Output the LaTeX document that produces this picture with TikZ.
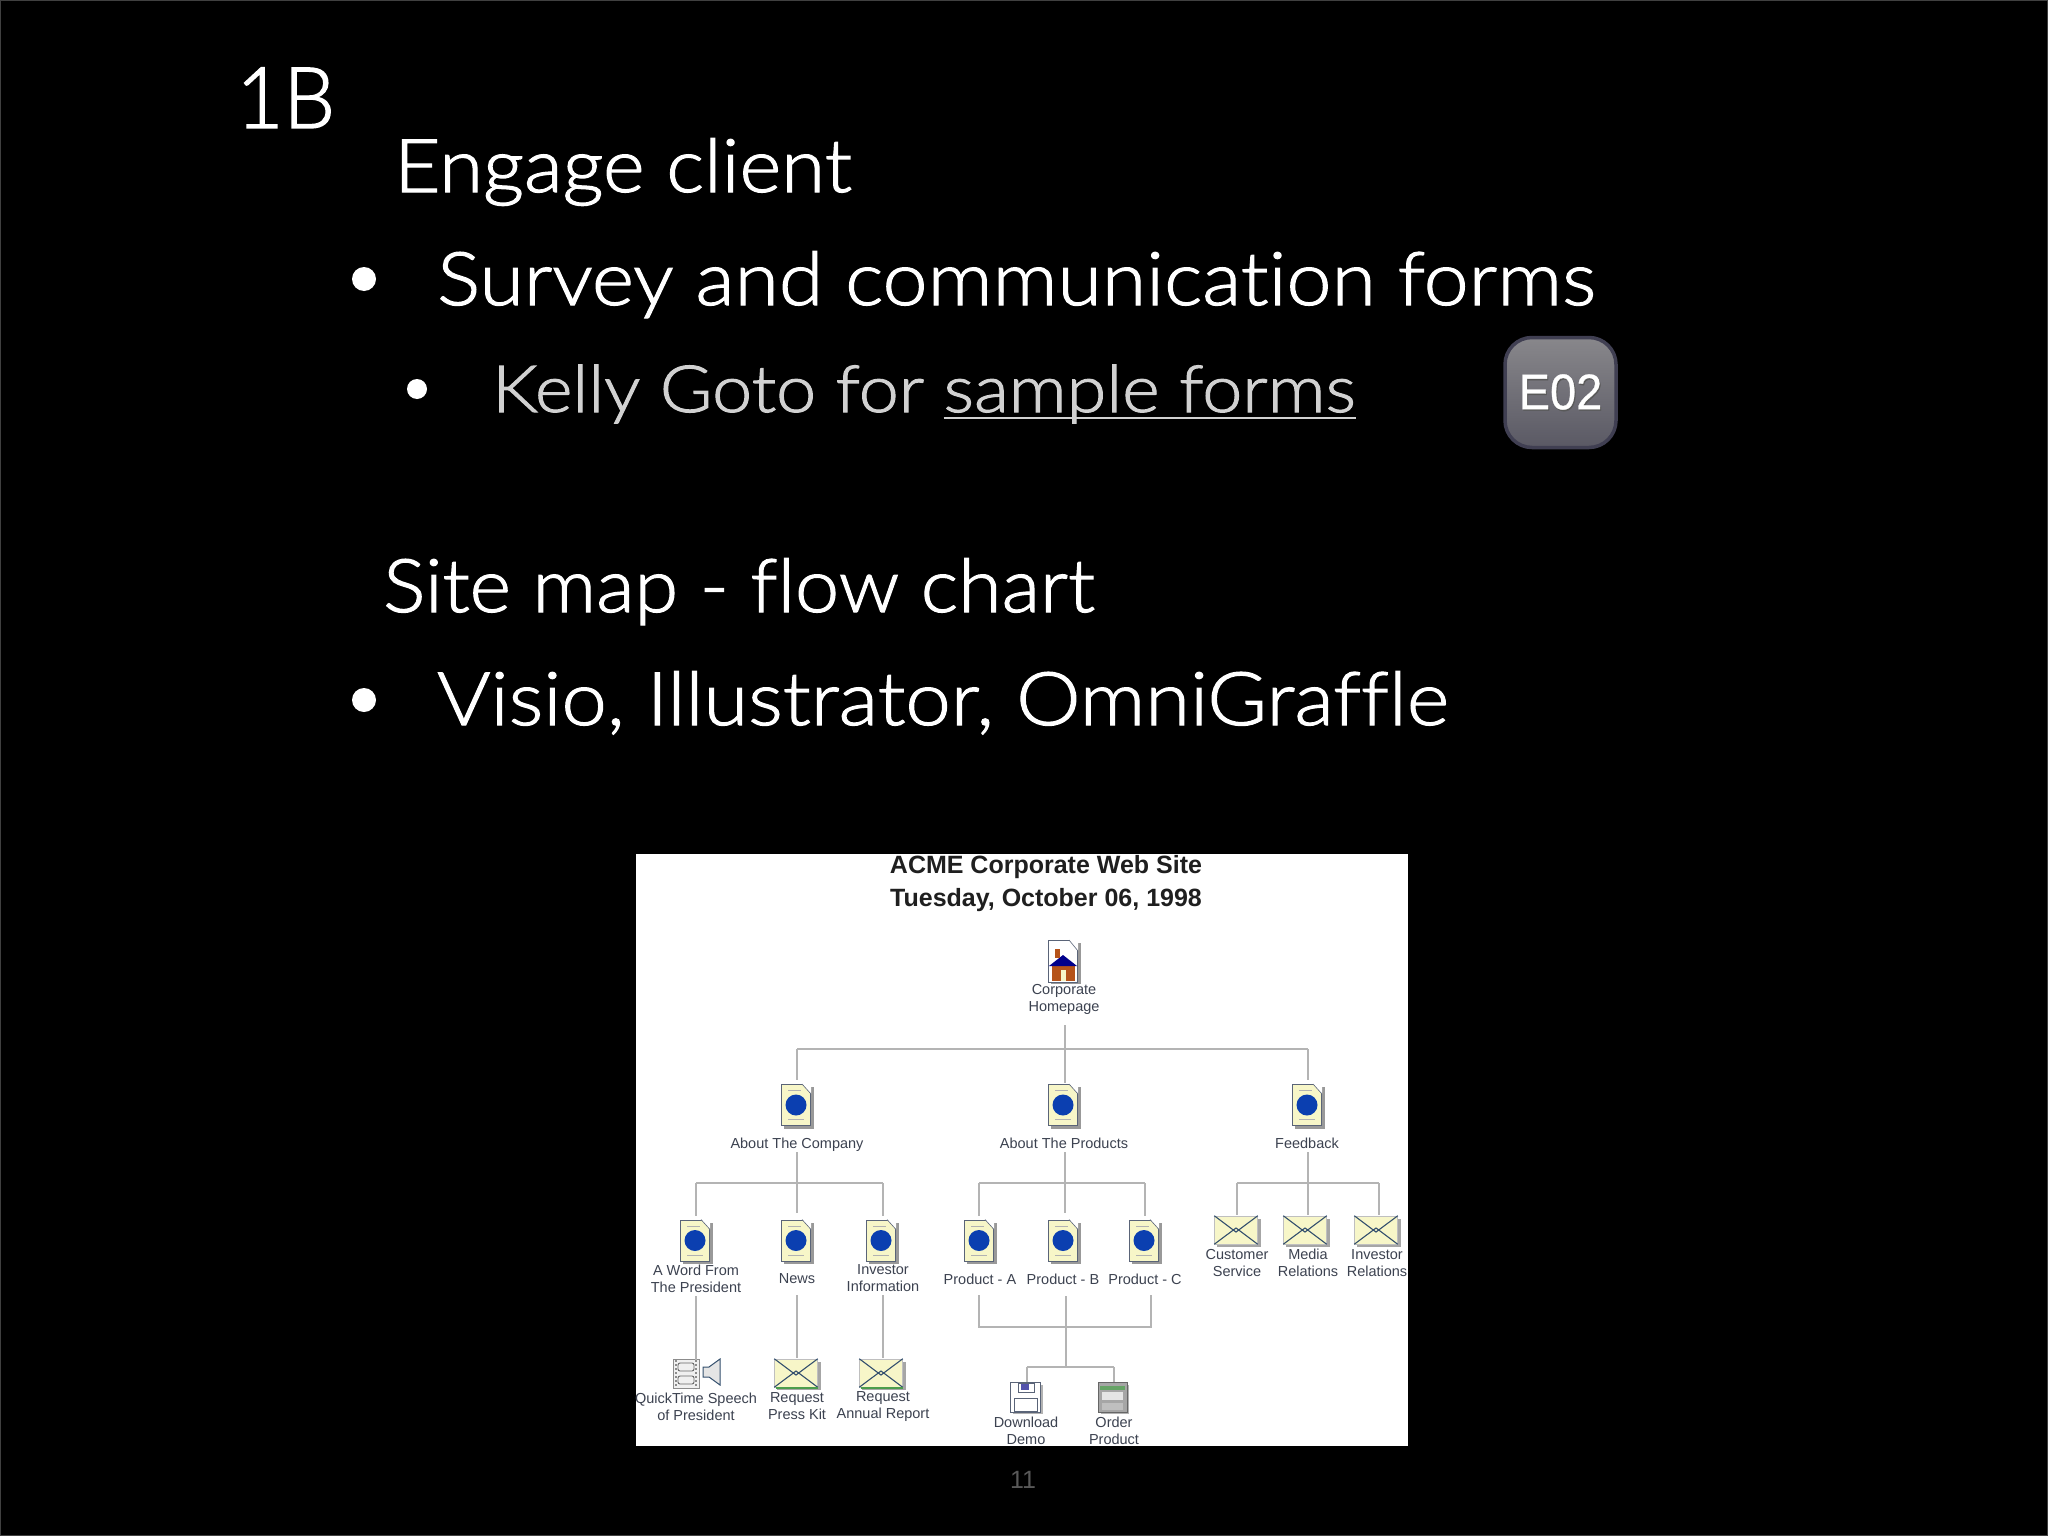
\documentclass[tikz,border=0pt]{standalone}
\usepackage{fontspec}
\setmainfont{Liberation Sans}
\newfontfamily\slidefont[FakeStretch=1.09,FakeBold=1.6,Ligatures=NoCommon]{Lato Light}
\newfontfamily\slidefontE[FakeStretch=1.08,FakeBold=1.6,Ligatures=NoCommon]{Lato Light}
\newfontfamily\slidefontK[FakeStretch=1.105,FakeBold=1.6,Ligatures=NoCommon]{Lato Light}
\newfontfamily\slidefontS[FakeStretch=1.07,FakeBold=1.6,Ligatures=NoCommon]{Lato Light}
\newfontfamily\slidefontV[FakeStretch=1.10,FakeBold=1.6,Ligatures=NoCommon]{Lato Light}
\newfontfamily\titlefont[FakeStretch=0.96,FakeBold=1.6]{Lato Light}
\newfontfamily\badgefont[FakeStretch=0.94,FakeBold=0.6]{Liberation Sans}
\definecolor{cream}{HTML}{F7F6C8}
\definecolor{wirec}{HTML}{B4B4B4}
\definecolor{lblc}{HTML}{3C4250}
\definecolor{dotblue}{HTML}{0B3FB0}
\definecolor{edgec}{HTML}{5A6478}
\definecolor{envline}{HTML}{34506E}
\tikzset{
  wire/.style={draw=wirec,line width=1.5pt},
  slidetext/.style={anchor=base west,inner sep=0pt,text=white,font=\fontsize{#1}{#1}\selectfont},
  lbl/.style={inner sep=2pt,align=center,text=lblc,font=\fontsize{14.5}{17}\selectfont},
  bulletdot/.style={circle,fill=white,inner sep=0pt,minimum size=#1},
  iconbox/.style={rectangle,inner sep=0pt,minimum width=29pt,minimum height=41pt,fill=cream,draw=edgec,line width=.7pt},
  envbox/.style={rectangle,inner sep=0pt,minimum width=43pt,minimum height=28pt,fill=cream,draw=black!25,line width=.5pt},
}
\newsavebox{\ulbox}
\newcommand{\ulined}[1]{\sbox{\ulbox}{#1}\rlap{\rule[-7pt]{\wd\ulbox}{2.5pt}}\usebox{\ulbox}}
% doc icon with a blue disc
\newcommand{\docicon}[3]{%
  \fill[black!40] (#2-12,#3-18) rectangle (#2+17.5,#3+23.5);
  \node[iconbox] (#1) at (#2,#3) {};
  \fill[white] (#2+6,#3-21) -- (#2+15,#3-21) -- (#2+15,#3-11) -- cycle;
  \draw[edgec,line width=.6pt] (#2+6,#3-21) -- (#2+15,#3-11);
  \draw[black!30,line width=.8pt] (#2-8,#3-14.5) -- (#2+5,#3-14.5) (#2-8,#3+14.5) -- (#2+8,#3+14.5);
  \fill[dotblue] (#2,#3) circle (10.5);
}
\newcommand{\envicon}[3]{%
  \fill[black!35] (#2-19,#3-11) rectangle (#2+24.5,#3+17);
  \node[envbox] (#1) at (#2,#3) {};
  \draw[envline,line width=1.1pt] (#1.north west) -- ([yshift=-2pt]#1.center) -- (#1.north east) (#1.south west) -- ([yshift=2pt]#1.center) -- (#1.south east);
}
\begin{document}
\begin{tikzpicture}[x=1pt,y=-1pt]
\useasboundingbox (0,0) rectangle (2048,1536);
\fill[black] (0,0) rectangle (2048,1536);
\draw[black!75,line width=2pt] (0,0) rectangle (2048,1536);
% slide text
\node[inner sep=0pt,anchor=base west,text=white,font=\titlefont\fontsize{85}{85}\selectfont] (oneb) at (236,128) {1B};
\node[slidetext=74] (engage) at (394,192) {\slidefontE Engage client};
\node[bulletdot=24pt] (b1) at (364,279) {};
\node[slidetext=74] (survey) at (437,305) {\slidefont Survey and communication forms};
\node[bulletdot=20pt] (b2) at (417,389) {};
\node[slidetext=65,text=white!82!black] (kelly) at (492,412) {\slidefontK Kelly Goto for \ulined{sample forms}};
\node[slidetext=74] (site) at (383,612) {\slidefontS Site map - flow chart};
\node[bulletdot=24pt] (b3) at (364,700) {};
\node[slidetext=74] (visio) at (437,725) {\slidefontV Visio, Illustrator, OmniGraffle};
% badge
\definecolor{badgetop}{HTML}{88878B}
\definecolor{badgebot}{HTML}{5A5964}
\definecolor{badgeedge}{HTML}{403F52}
\node[rectangle,rounded corners=27pt,minimum width=111pt,minimum height=110pt,inner sep=0pt,
      top color=badgetop,bottom color=badgebot,draw=badgeedge,line width=3.5pt] (badge) at (1560.5,392.5) {};
\node[inner sep=0pt,text=black!65,font=\badgefont\fontsize{50}{50}\selectfont] (badgeS) at (1561.5,393.5) {E02};
\node[inner sep=0pt,text=white,font=\badgefont\fontsize{50}{50}\selectfont] (badgeT) at (1560.5,392) {E02};
% site map image
\fill[white] (636,854) rectangle (1408,1446);
\node[inner sep=0pt,text=black!88,font=\bfseries\fontsize{25}{25}\selectfont] (t1) at (1046,867) {ACME Corporate Web Site};
\node[inner sep=0pt,text=black!88,font=\bfseries\fontsize{25}{25}\selectfont] (t2) at (1046,900) {Tuesday, October 06, 1998};
% home icon
\fill[black!40] (1051,943) rectangle (1080.5,984);
\node[iconbox,fill=white,minimum height=42pt] (home) at (1063,961) {};
\fill[white] (1069,940) -- (1078,940) -- (1078,951) -- cycle;
\draw[edgec,line width=.6pt] (1069,940) -- (1078,951);
\definecolor{brick}{HTML}{B5531A}
\fill[brick] (1052,964) rectangle (1075,981);
\fill[cream] (1061,970) rectangle (1066,981);
\fill[blue!55!black] (1049,966) -- (1063,955) -- (1077,966) -- cycle;
\fill[brick] (1055,949) rectangle (1060,958);
\node[lbl] (homeL) at (1064,999.5) {Corporate\\Homepage};
\docicon{co}{796}{1105}
\docicon{pr}{1063}{1105}
\docicon{fb}{1307}{1105}
\node[lbl] (coL) at (797,1144.5) {About The Company};
\node[lbl] (prL) at (1064,1143) {About The Products};
\node[lbl] (fbL) at (1307,1143) {Feedback};
% level 3
\docicon{wd}{695}{1240.5}
\docicon{nw}{796}{1240.5}
\docicon{iv}{881}{1240.5}
\docicon{pa}{979}{1240.5}
\docicon{pb}{1063}{1240.5}
\docicon{pc}{1144}{1240.5}
\envicon{cs}{1236}{1230}
\envicon{mr}{1305}{1230}
\envicon{ir}{1376}{1230}
\node[lbl] (wdL) at (696,1278.5) {A Word From\\The President};
\node[lbl] (nwL) at (797,1279) {News};
\node[lbl] (ivL) at (883,1278.5) {Investor\\Information};
\node[lbl] (paL) at (980,1279) {Product - A};
\node[lbl] (pbL) at (1063,1279) {Product - B};
\node[lbl] (pcL) at (1145,1279) {Product - C};
\node[lbl] (csL) at (1237,1263) {Customer\\Service};
\node[lbl] (mrL) at (1308,1263) {Media\\Relations};
\node[lbl] (irL) at (1377,1263) {Investor\\Relations};
% level 4
\node[rectangle,inner sep=0pt,minimum width=26pt,minimum height=29pt,fill=black!6,draw=black!45,line width=.7pt] (qt) at (686,1373.5) {};
\foreach \yy in {1367,1380} {\draw[black!60,rounded corners=2pt,line width=.9pt] (678,\yy-4) rectangle (694,\yy+4);}
\draw[black!45,dash pattern=on 2pt off 2pt,line width=1.2pt] (676,1360) -- (676,1387) (696,1360) -- (696,1387);
\fill[black!10] (703,1367) -- (709,1367) -- (720,1359) -- (720,1385) -- (709,1377) -- (703,1377) -- cycle;
\draw[envline,line width=1pt] (703,1367) -- (709,1367) -- (720,1359) -- (720,1385) -- (709,1377) -- (703,1377) -- cycle;
\envicon{pk}{796}{1373}
\envicon{ar}{881}{1373}
\draw[green!45!black!70,line width=2pt] (776,1387.5) -- (818,1387.5);
\draw[green!45!black!70,line width=2pt] (861,1387.5) -- (903,1387.5);
\node[lbl] (qtL) at (696,1406.5) {QuickTime Speech\\of President};
\node[lbl] (pkL) at (797,1406.5) {Request\\Press Kit};
\node[lbl] (arL) at (883,1406.5) {Request\\Annual Report};
% disk and order
\fill[black!30] (1013,1385) rectangle (1043,1414);
\node[rectangle,inner sep=0pt,minimum width=30pt,minimum height=30pt,fill=white,draw=edgec,line width=.8pt] (dd) at (1025.5,1397) {};
\draw[edgec,line width=.8pt,fill=white] (1018,1383) rectangle (1034,1392);
\fill[blue!35!gray] (1021,1384) rectangle (1029,1390);
\draw[edgec,line width=.8pt] (1014,1398) rectangle (1037,1411);
\fill[black!30] (1101,1385) rectangle (1129,1414);
\node[rectangle,inner sep=0pt,minimum width=29pt,minimum height=30pt,fill=black!35,draw=black!60,line width=.8pt] (op) at (1112.5,1397) {};
\fill[green!40!black!60] (1100,1386) rectangle (1125,1390);
\fill[white!90!black] (1102,1392) rectangle (1123,1400);
\fill[white!75!black] (1102,1403) rectangle (1123,1410);
\node[lbl] (ddL) at (1026,1430.5) {Download\\Demo};
\node[lbl] (opL) at (1114,1430.5) {Order\\Product};
% junctions
\coordinate (j0) at (1065,1049);
\coordinate (j0a) at (797,1049);
\coordinate (j0c) at (1308,1049);
\coordinate (j1) at (797,1183);
\coordinate (j1a) at (696,1183);
\coordinate (j1c) at (883,1183);
\coordinate (j2) at (1065,1183);
\coordinate (j2a) at (979,1183);
\coordinate (j2c) at (1145,1183);
\coordinate (j3) at (1308,1183);
\coordinate (j3a) at (1237,1183);
\coordinate (j3c) at (1379,1183);
\coordinate (j4) at (1066,1327);
\coordinate (j4a) at (979,1327);
\coordinate (j4c) at (1151,1327);
\coordinate (j5) at (1066,1367);
\coordinate (j5a) at (1027,1367);
\coordinate (j5c) at (1114,1367);
% connectors
\draw[wire] (1065,1025) -- (j0);
\draw[wire] (j0) -- (1065,1083);
\draw[wire] (j0a) -- (j0c);
\draw[wire] (j0a) -- (797,1080);
\draw[wire] (j0c) -- (1308,1080);
\draw[wire] (797,1152) -- (j1) -- (797,1213);
\draw[wire] (j1a) -- (j1c);
\draw[wire] (j1a) -- (696,1216);
\draw[wire] (j1c) -- (883,1216);
\draw[wire] (1065,1152) -- (j2) -- (1065,1213);
\draw[wire] (j2a) -- (j2c);
\draw[wire] (j2a) -- (979,1216);
\draw[wire] (j2c) -- (1145,1216);
\draw[wire] (1308,1152) -- (j3) -- (1308,1215);
\draw[wire] (j3a) -- (j3c);
\draw[wire] (j3a) -- (1237,1215);
\draw[wire] (j3c) -- (1379,1215);
\draw[wire] (696,1296) -- (696,1360);
\draw[wire] (797,1295) -- (797,1358);
\draw[wire] (883,1295) -- (883,1358);
\draw[wire] (979,1295) -- (j4a) -- (j4c) -- (1151,1295);
\draw[wire] (1066,1296) -- (j5);
\draw[wire] (j5a) -- (j5c);
\draw[wire] (j5a) -- (1027,1382);
\draw[wire] (j5c) -- (1114,1382);
% page number
\node[inner sep=0pt,text=black!65!white,font=\fontsize{25}{25}\selectfont] (pg) at (1023,1480) {11};
\end{tikzpicture}
\end{document}
